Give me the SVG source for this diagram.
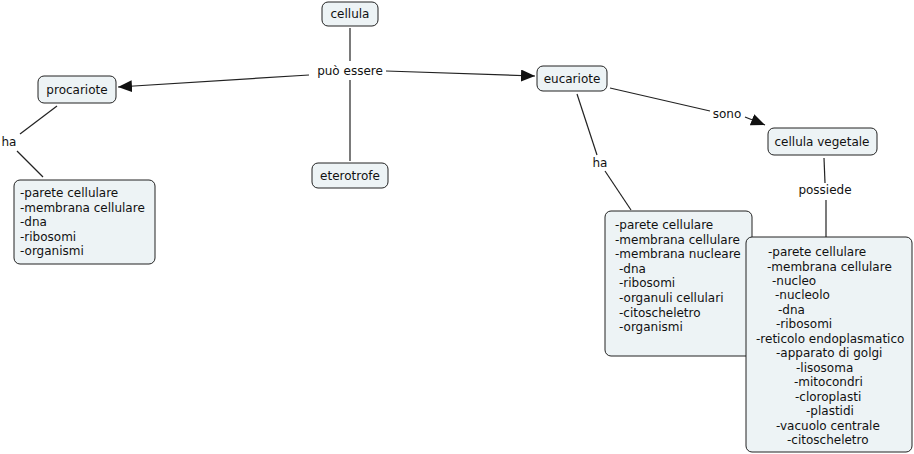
<svg xmlns="http://www.w3.org/2000/svg" width="914" height="454" viewBox="0 0 914 454">
<defs>
<style>
.n rect{fill:#edf3f5;stroke:#222;stroke-width:1}
text{font-family:"DejaVu Sans",Verdana,sans-serif;font-size:12px;fill:#111}
.c line{stroke:#222;stroke-width:1.2}
.m{text-anchor:middle}
</style>
<marker id="ah" viewBox="0 0 10 10" refX="10" refY="5" markerWidth="10" markerHeight="10" markerUnits="userSpaceOnUse" orient="auto"><path d="M0,0 L10,5 L0,10 z" fill="#111"/></marker>
<marker id="ah2" viewBox="0 0 14 12" refX="14" refY="6" markerWidth="14" markerHeight="12" markerUnits="userSpaceOnUse" orient="auto"><path d="M0,0 L14,6 L0,12 z" fill="#111"/></marker>
</defs>
<rect width="914" height="454" fill="#fff"/>
<g id="connectors" class="c">
<line x1="350" y1="28" x2="350" y2="61"/>
<line x1="350" y1="80" x2="350" y2="161"/>
<line x1="309" y1="75" x2="118" y2="87" marker-end="url(#ah2)"/>
<line x1="386" y1="71" x2="535" y2="76" marker-end="url(#ah2)"/>
<line x1="57" y1="106" x2="20" y2="134"/>
<line x1="17" y1="151" x2="43" y2="177"/>
<line x1="577" y1="94" x2="597" y2="155"/>
<line x1="605" y1="171" x2="631" y2="210"/>
<line x1="610" y1="88" x2="710" y2="111"/>
<line x1="745" y1="117" x2="765" y2="125" marker-end="url(#ah2)"/>
<line x1="824" y1="158" x2="825" y2="183"/>
<line x1="826" y1="200" x2="826" y2="237"/>
</g>
<g id="labels">
<text class="m" x="350" y="75">può essere</text>
<text class="m" x="9" y="146">ha</text>
<text class="m" x="600" y="167">ha</text>
<text class="m" x="727" y="118">sono</text>
<text class="m" x="825" y="194">possiede</text>
</g>
<g id="cellula" class="n"><rect x="322" y="2" width="56" height="24" rx="6"/><text class="m" x="350" y="18">cellula</text></g>
<g id="procariote" class="n"><rect x="38" y="76" width="78" height="27" rx="6"/><text class="m" x="77" y="94">procariote</text></g>
<g id="eterotrofe" class="n"><rect x="312" y="163" width="76" height="25" rx="6"/><text class="m" x="350" y="180">eterotrofe</text></g>
<g id="eucariote" class="n"><rect x="537" y="66" width="70" height="25" rx="6"/><text class="m" x="572" y="83">eucariote</text></g>
<g id="cellula-vegetale" class="n"><rect x="768" y="128" width="109" height="27" rx="6"/><text class="m" x="822" y="146">cellula vegetale</text></g>
<g id="procariote-lista" class="n"><rect x="14" y="180" width="141" height="84" rx="6"/>
<text x="20" y="197">-parete cellulare</text>
<text x="20" y="211.5">-membrana cellulare</text>
<text x="20" y="226">-dna</text>
<text x="20" y="240.5">-ribosomi</text>
<text x="20" y="255">-organismi</text>
</g>
<g id="eucariote-lista" class="n"><rect x="605" y="211" width="147" height="145" rx="6"/>
<text x="615" y="229">-parete cellulare</text>
<text x="615" y="243.6">-membrana cellulare</text>
<text x="615" y="258.2">-membrana nucleare</text>
<text x="619" y="272.8">-dna</text>
<text x="619" y="287.4">-ribosomi</text>
<text x="619" y="302">-organuli cellulari</text>
<text x="619" y="316.6">-citoscheletro</text>
<text x="619" y="331.2">-organismi</text>
</g>
<g id="vegetale-lista" class="n"><rect x="746" y="237" width="166" height="215" rx="6"/>
<text x="768" y="256">-parete cellulare</text>
<text x="767" y="270.5">-membrana cellulare</text>
<text x="772" y="285">-nucleo</text>
<text x="775" y="299.4">-nucleolo</text>
<text x="778" y="313.9">-dna</text>
<text x="776" y="328.3">-ribosomi</text>
<text x="756" y="342.8">-reticolo endoplasmatico</text>
<text x="776" y="357.2">-apparato di golgi</text>
<text x="796" y="371.7">-lisosoma</text>
<text x="794" y="386.1">-mitocondri</text>
<text x="795" y="400.6">-cloroplasti</text>
<text x="806" y="415">-plastidi</text>
<text x="776" y="429.5">-vacuolo centrale</text>
<text x="787" y="444">-citoscheletro</text>
</g>
</svg>
